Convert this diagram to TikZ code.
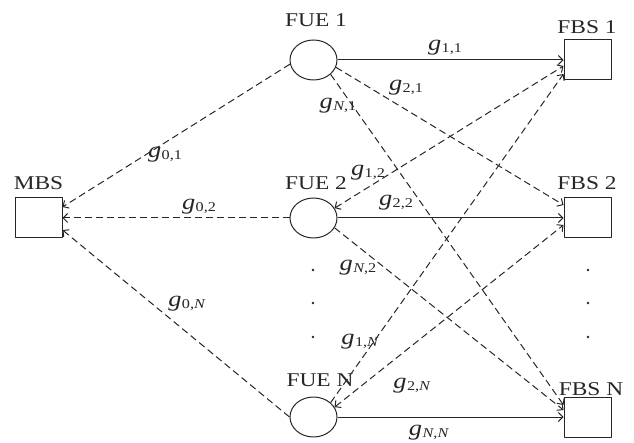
\documentclass[tikz,border=0pt]{standalone}
\usepackage{fontspec}
\setmainfont{Liberation Serif}[FakeStretch=1.2]
\usetikzlibrary{shapes.geometric,arrows.meta}
\newcommand\gsub[1]{{\fontsize{22}{22}\selectfont\itshape g}\kern0.5pt\raisebox{-0.45ex}{\fontsize{13.5}{13.5}\selectfont #1}}
\tikzset{
  ue/.style={draw, ellipse, minimum width=47pt, minimum height=40pt, inner sep=0pt, line width=1pt},
  bs/.style={draw, rectangle, minimum width=47pt, minimum height=40pt, inner sep=0pt, line width=1pt},
  lbl/.style={font=\fontsize{19.5}{19.5}\selectfont, inner sep=0pt},
  glbl/.style={inner sep=0pt},
  link/.style={line width=1pt, -{Straight Barb[length=4.5pt,width=9pt]}},
  ilink/.style={link, dash pattern=on 7pt off 4pt},
  blink/.style={ilink, {Straight Barb[length=4.5pt,width=9pt]}-{Straight Barb[length=4.5pt,width=9pt]}},
  dotmark/.style={circle, fill, inner sep=0pt, minimum size=2.8pt}
}
\begin{document}
\begin{tikzpicture}[x=1pt, y=-1pt, line join=round, color={black!85}]
\useasboundingbox (0,0) rectangle (634,443);
% nodes
\node[bs] (MBS) at (38.5,218) {};
\node[ue] (FUE1) at (313.5,60) {};
\node[ue] (FUE2) at (313.5,218) {};
\node[ue] (FUEN) at (313.5,417) {};
\node[bs] (FBS1) at (587.5,60) {};
\node[bs] (FBS2) at (587.5,218) {};
\node[bs] (FBSN) at (587.5,417) {};
% labels
\node[lbl] (tMBS) at (38.5,183) {MBS};
\node[lbl] (tFUE1) at (316,20) {FUE 1};
\node[lbl] (tFUE2) at (316,183) {FUE 2};
\node[lbl] (tFUEN) at (320,380) {FUE N};
\node[lbl] (tFBS1) at (587,27) {FBS 1};
\node[lbl] (tFBS2) at (587,183) {FBS 2};
\node[lbl] (tFBSN) at (591,389) {FBS N};
% dots
\foreach \yy [count=\i] in {270,303,337}{
  \node[dotmark] (dl\i) at (313,\yy) {};
  \node[dotmark] (dr\i) at (588,\yy) {};
}
% links to MBS
\draw[ilink] (FUE1.190) -- ([yshift=11pt]MBS.east);
\draw[ilink] (FUE2.west) -- (MBS.east);
\draw[ilink] (FUEN.180) -- ([yshift=-12pt]MBS.east);
% direct links
\draw[link] (FUE1.east) -- (FBS1.west);
\draw[link] (FUE2.east) -- (FBS2.west);
\draw[link] (FUEN.east) -- (FBSN.west);
% interference links
\draw[ilink] (FUE1.-18) -- ([yshift=13pt]FBS2.west);
\draw[ilink] (FUE1.-40) -- ([yshift=12pt]FBSN.west);
\draw[ilink] (FUE2.-25) -- ([yshift=7pt]FBSN.west);
\draw[blink] (FUE2.25) -- ([yshift=-6pt]FBS1.west);
\draw[ilink] (FUEN.40) -- ([yshift=-14pt]FBS1.west);
\draw[blink] (FUEN.25) -- ([yshift=-7pt]FBS2.west);
% gain labels
\node[glbl] (g11) at (445,48) {\gsub{1,1}};
\node[glbl] (g21) at (406,88) {\gsub{2,1}};
\node[glbl] (gN1) at (338,106) {\gsub{\textit{N},1}};
\node[glbl] (g12) at (368,173) {\gsub{1,2}};
\node[glbl] (g22) at (396,203) {\gsub{2,2}};
\node[glbl] (gN2) at (358,268) {\gsub{\textit{N},2}};
\node[glbl] (g1N) at (360,342) {\gsub{1,\textit{N}}};
\node[glbl] (g2N) at (412,386) {\gsub{2,\textit{N}}};
\node[glbl] (gNN) at (429,433) {\gsub{\textit{N},\textit{N}}};
\node[glbl] (g01) at (165,155) {\gsub{0,1}};
\node[glbl] (g02) at (199,207) {\gsub{0,2}};
\node[glbl] (g0N) at (187,304) {\gsub{0,\textit{N}}};
\end{tikzpicture}
\end{document}
